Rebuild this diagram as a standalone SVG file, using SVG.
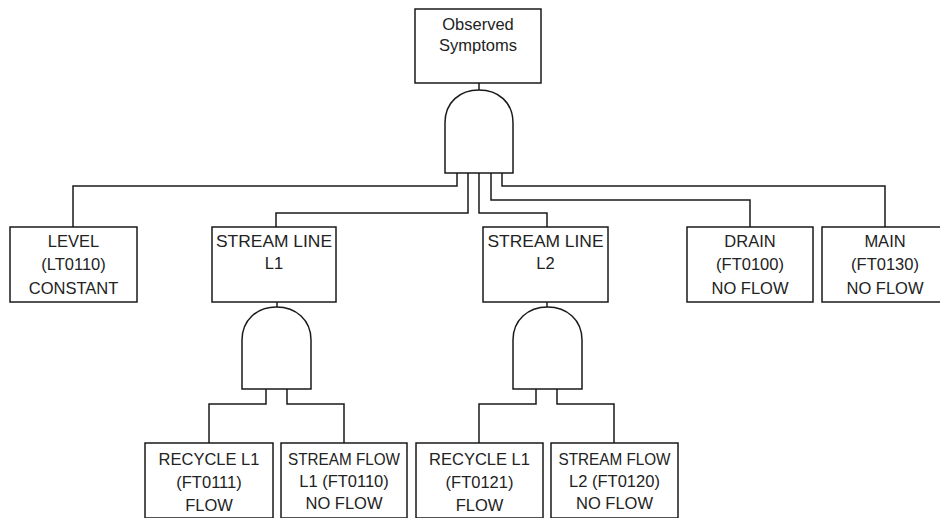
<svg xmlns="http://www.w3.org/2000/svg" width="940" height="518" viewBox="0 0 940 518">
<style>
.box{fill:#fff;stroke:#1a1a1a;stroke-width:1.5}
.gate{fill:#fff;stroke:#1a1a1a;stroke-width:1.5}
.wire{fill:none;stroke:#1a1a1a;stroke-width:1.5}
text{font-family:"Liberation Sans",Arial,sans-serif;font-size:16.5px;fill:#222;text-anchor:middle}
</style>
<rect width="940" height="518" fill="#fff"/>
<g id="connectors">
<path class="wire" d="M479,83V90"/>
<path class="wire" d="M457,173V186H73V227"/>
<path class="wire" d="M468,173V213H276V227"/>
<path class="wire" d="M479,173V213H547V227"/>
<path class="wire" d="M491,173V200H750V227"/>
<path class="wire" d="M502,173V186H885V227"/>
<path class="wire" d="M277,302V307"/>
<path class="wire" d="M266,389V404H209V443"/>
<path class="wire" d="M287,389V404H344V443"/>
<path class="wire" d="M547,302V307"/>
<path class="wire" d="M536,389V404H479V443"/>
<path class="wire" d="M557,389V404H614V443"/>
</g>
<g id="top">
<rect class="box" x="415" y="9" width="126" height="74"/>
<text x="478" y="30">Observed</text>
<text x="478" y="51">Symptoms</text>
</g>
<g id="gate-top">
<path class="gate" d="M445,173V123C445,102 460,90 479,90C498,90 513,102 513,123V173Z"/>
</g>
<g id="level">
<rect class="box" x="10" y="227" width="127" height="75"/>
<text x="73.5" y="247">LEVEL</text>
<text x="73.5" y="270">(LT0110)</text>
<text x="73.5" y="294">CONSTANT</text>
</g>
<g id="streamline-l1">
<rect class="box" x="212" y="227" width="124" height="75"/>
<text x="274" y="247" textLength="116" lengthAdjust="spacingAndGlyphs">STREAM LINE</text>
<text x="274" y="269">L1</text>
</g>
<g id="streamline-l2">
<rect class="box" x="483" y="227" width="125" height="75"/>
<text x="545.5" y="247" textLength="116" lengthAdjust="spacingAndGlyphs">STREAM LINE</text>
<text x="545.5" y="269">L2</text>
</g>
<g id="drain">
<rect class="box" x="687" y="227" width="126" height="75"/>
<text x="750" y="247">DRAIN</text>
<text x="750" y="270">(FT0100)</text>
<text x="750" y="294">NO FLOW</text>
</g>
<g id="main">
<rect class="box" x="822" y="227" width="126" height="75"/>
<text x="885" y="247">MAIN</text>
<text x="885" y="270">(FT0130)</text>
<text x="885" y="294">NO FLOW</text>
</g>
<g id="gate-l1">
<path class="gate" d="M242,389V340C242,320 257,307 276.5,307C296,307 311,320 311,340V389Z"/>
</g>
<g id="gate-l2">
<path class="gate" d="M513,389V340C513,320 528,307 547.5,307C567,307 582,320 582,340V389Z"/>
</g>
<g id="recycle-l1">
<rect class="box" x="145" y="443" width="128" height="75"/>
<text x="209" y="465">RECYCLE L1</text>
<text x="209" y="488">(FT0111)</text>
<text x="209" y="511">FLOW</text>
</g>
<g id="streamflow-l1">
<rect class="box" x="281" y="443" width="126" height="75"/>
<text x="344" y="465" textLength="112" lengthAdjust="spacingAndGlyphs">STREAM FLOW</text>
<text x="344" y="487">L1 (FT0110)</text>
<text x="344" y="509">NO FLOW</text>
</g>
<g id="recycle-l2">
<rect class="box" x="416" y="443" width="127" height="75"/>
<text x="479.5" y="465">RECYCLE L1</text>
<text x="479.5" y="488">(FT0121)</text>
<text x="479.5" y="511">FLOW</text>
</g>
<g id="streamflow-l2">
<rect class="box" x="551" y="443" width="127" height="75"/>
<text x="614.5" y="465" textLength="112" lengthAdjust="spacingAndGlyphs">STREAM FLOW</text>
<text x="614.5" y="487">L2 (FT0120)</text>
<text x="614.5" y="509">NO FLOW</text>
</g>
</svg>
